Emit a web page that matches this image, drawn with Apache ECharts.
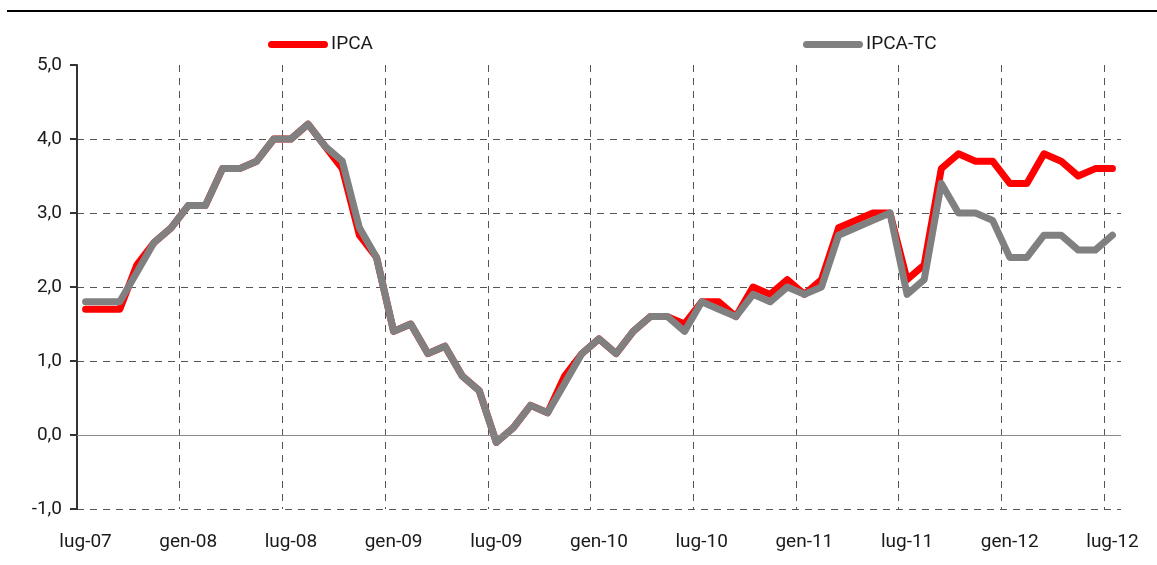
<!DOCTYPE html>
<html>
<head>
<meta charset="utf-8">
<script src="https://cdn.jsdelivr.net/npm/echarts@6/dist/echarts.min.js"></script>
<style>html,body{margin:0;padding:0;background:#fff}#c{width:1157px;height:565px}</style>
</head>
<body>
<div id="c"></div>
<script>
var categories = [
 'lug-07','ago-07','set-07','ott-07','nov-07','dic-07',
 'gen-08','feb-08','mar-08','apr-08','mag-08','giu-08',
 'lug-08','ago-08','set-08','ott-08','nov-08','dic-08',
 'gen-09','feb-09','mar-09','apr-09','mag-09','giu-09',
 'lug-09','ago-09','set-09','ott-09','nov-09','dic-09',
 'gen-10','feb-10','mar-10','apr-10','mag-10','giu-10',
 'lug-10','ago-10','set-10','ott-10','nov-10','dic-10',
 'gen-11','feb-11','mar-11','apr-11','mag-11','giu-11',
 'lug-11','ago-11','set-11','ott-11','nov-11','dic-11',
 'gen-12','feb-12','mar-12','apr-12','mag-12','giu-12',
 'lug-12'
];
var ipca = [
 1.7,1.7,1.7,2.3,2.6,2.8,
 3.1,3.1,3.6,3.6,3.7,4.0,
 4.0,4.2,3.9,3.6,2.7,2.4,
 1.4,1.5,1.1,1.2,0.8,0.6,
 -0.1,0.1,0.4,0.3,0.8,1.1,
 1.3,1.1,1.4,1.6,1.6,1.5,
 1.8,1.8,1.6,2.0,1.9,2.1,
 1.9,2.1,2.8,2.9,3.0,3.0,
 2.1,2.3,3.6,3.8,3.7,3.7,
 3.4,3.4,3.8,3.7,3.5,3.6,
 3.6
];
var ipcaTC = [
 1.8,1.8,1.8,2.2,2.6,2.8,
 3.1,3.1,3.6,3.6,3.7,4.0,
 4.0,4.2,3.9,3.7,2.8,2.4,
 1.4,1.5,1.1,1.2,0.8,0.6,
 -0.1,0.1,0.4,0.3,0.7,1.1,
 1.3,1.1,1.4,1.6,1.6,1.4,
 1.8,1.7,1.6,1.9,1.8,2.0,
 1.9,2.0,2.7,2.8,2.9,3.0,
 1.9,2.1,3.4,3.0,3.0,2.9,
 2.4,2.4,2.7,2.7,2.5,2.5,
 2.7
];
var yTicks = {min: -1, max: 5, step: 1};

var FONT = "Roboto, 'Liberation Sans', sans-serif";
var chart = echarts.init(document.getElementById('c'), null, {renderer: 'canvas'});
var iconPath = 'path://M3.5,0H56.5A3.5,3.5,0,0,1,56.5,7H3.5A3.5,3.5,0,0,1,3.5,0Z';
var legendCommon = {
  orient: 'horizontal', padding: 0, itemWidth: 60, itemHeight: 7, icon: iconPath,
  itemStyle: {borderWidth: 0},
  textStyle: {fontFamily: FONT, fontSize: 19, color: '#1a1a1a', padding: [0,0,0,-2]},
  selectedMode: false
};
chart.setOption({
  animation: false,
  backgroundColor: '#fff',
  graphic: [{
    type: 'line', silent: true,
    shape: {x1: 7, y1: 11, x2: 1157, y2: 11},
    style: {stroke: '#000', lineWidth: 2}
  }],
  legend: [
    Object.assign({}, legendCommon, {left: 268, top: 35, data: ['IPCA']}),
    Object.assign({}, legendCommon, {left: 803, top: 35, data: ['IPCA-TC']})
  ],
  grid: {left: 77, right: 36, top: 65, bottom: 56, containLabel: false},
  xAxis: {
    type: 'category', data: categories, boundaryGap: true,
    axisLine: {show: false}, axisTick: {show: false},
    axisLabel: {interval: 5, margin: 24, fontFamily: FONT, fontSize: 19, color: '#1a1a1a'},
    splitLine: {show: true, interval: 5, showMinLine: false, showMaxLine: false,
      lineStyle: {type: [7, 6], color: '#555', width: 1}}
  },
  yAxis: {
    type: 'value', min: yTicks.min, max: yTicks.max, interval: yTicks.step,
    axisLine: {show: true, onZero: false, lineStyle: {color: '#333', width: 2}},
    axisTick: {show: true, inside: false, length: 7, lineStyle: {color: '#333', width: 2}},
    axisLabel: {margin: 15, fontFamily: FONT, fontSize: 19, color: '#1a1a1a',
      formatter: function (v) { return v.toFixed(1).replace('.', ','); }},
    splitLine: {show: true, showMaxLine: false, lineStyle: {type: [7, 6], color: '#555', width: 1}}
  },
  series: [
    {
      name: 'IPCA', type: 'line', data: ipca, symbol: 'none', color: '#ff0000',
      lineStyle: {color: '#ff0000', width: 7, cap: 'round', join: 'round'},
      markLine: {
        silent: true, symbol: 'none', label: {show: false},
        lineStyle: {type: 'solid', color: '#8a8a8a', width: 1},
        data: [{yAxis: 0}]
      },
      z: 2
    },
    {
      name: 'IPCA-TC', type: 'line', data: ipcaTC, symbol: 'none', color: '#808080',
      lineStyle: {color: '#808080', width: 7, cap: 'round', join: 'round'},
      z: 3
    }
  ]
});
</script>
</body>
</html>
